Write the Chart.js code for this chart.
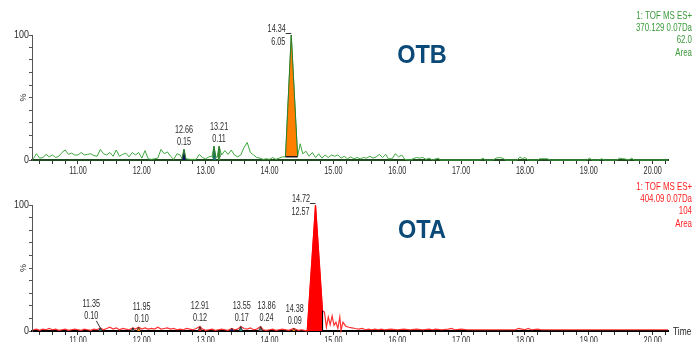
<!DOCTYPE html>
<html><head><meta charset="utf-8">
<script src="https://cdn.jsdelivr.net/npm/chart.js@4"></script>
<style>
html,body{margin:0;padding:0;background:#fff;width:698px;height:342px;overflow:hidden;position:relative;}
#c1{position:absolute;left:0;top:0;}
#c2{position:absolute;left:0;top:180px;}
</style></head><body>
<canvas id="c1" width="698" height="180"></canvas>
<canvas id="c2" width="698" height="170"></canvas>
<script>
// ---------- DATA ----------
const xMin = 10.28, xMax = 20.24;
const yTickLabels = [0, 100];

// OTB trace (370.129)
const otbTime = [10.30,10.35,10.40,10.45,10.50,10.55,10.60,10.65,10.70,10.75,10.80,10.85,10.90,10.95,11.00,11.05,11.10,11.15,11.20,11.25,11.30,11.35,11.40,11.45,11.50,11.55,11.60,11.65,11.70,11.75,11.80,11.85,11.90,11.95,12.00,12.05,12.10,12.15,12.20,12.25,12.30,12.35,12.40,12.45,12.50,12.55,12.60,12.63,12.66,12.69,12.75,12.80,12.85,12.90,12.95,13.00,13.05,13.10,13.13,13.16,13.18,13.21,13.25,13.30,13.35,13.40,13.45,13.50,13.55,13.60,13.65,13.70,13.75,13.80,13.85,13.90,13.95,14.00,14.05,14.10,14.15,14.20,14.25,14.34,14.44,14.48,14.52,14.57,14.62,14.67,14.72,14.77,14.82,14.87,14.92,14.97,15.02,15.07,15.12,15.17,15.22,15.27,15.32,15.37,15.42,15.47,15.52,15.57,15.62,15.67,15.72,15.77,15.82,15.86,15.92,15.97,16.02,16.07,16.12,16.20,16.30,16.35,16.40,16.45,16.50,16.55,16.64,16.68,17.30,17.34,17.38,17.50,17.55,17.60,17.65,17.70,17.88,17.92,17.96,18.00,18.05,18.20,18.23,18.30,18.35,18.40,18.97,19.01,19.05,19.16,19.20,19.24,19.44,19.48,19.52,19.55,19.63,19.67,19.71,20.24];
const otbValue = [1,5,1.5,2,4.5,2.5,4,2,3,6,8,4.5,5.5,4,4,6,4,4.5,5,3.5,3,8.5,5,4,6,3,8,3,4.5,5.5,2.5,6,4,6,1.5,7.5,1,0.5,1,1.5,8.5,5,6.5,3,0.5,5,4,1,8.5,1,0.5,0.5,0.5,4.5,2,1,2.5,3,11,2,2.5,11,4,7.5,4.5,8,4,2.5,4,10,14,6,4,2,1.5,0.5,1,0.5,2,0.5,1.5,2.5,2.5,100,3,13,5,7,3,6,2,5,1.5,4,2,4,3,4,1.5,3,1,2.5,1,2,1,2,1.5,3,1.5,2.5,4.5,2,4.5,1,1,5,2.5,4,0.5,0,2,1.5,2,0.5,1.5,0,1.5,0,0,1.5,0,0,1.5,2,1.5,0,0,2.5,1,2,0,0,1,1,1,0,0,1.5,0,0,1,0,0,1.5,1,1,0,1.5,0,0];

// OTB integrated peaks
const otbMainPeakTime = [14.25, 14.34, 14.44];
const otbMainPeakValue = [2.6, 100, 2.6];
const otbMainBase = 2.6;
const otbSmallPeakTime = [[12.63, 12.66, 12.69], [13.11, 13.13, 13.16], [13.19, 13.21, 13.23]];
const otbSmallPeakValue = [[0.5, 8.5, 0.5], [1.5, 11, 1.5], [2, 11, 2.5]];

// OTB labels
const otbLabelTime = [14.34, 12.66, 13.21];
const otbLabelApex = [100, 8.5, 11];
const otbLabelArea = ['6.05', '0.15', '0.11'];
const otbInfo = ['1: TOF MS ES+', '370.129 0.07Da', '62.0', 'Area'];

// OTA trace (404.09)
const otaTime = [10.30,10.35,10.40,10.45,10.50,10.55,10.60,10.65,10.70,10.75,10.80,10.85,10.90,10.95,11.00,11.05,11.10,11.15,11.20,11.25,11.30,11.35,11.40,11.45,11.50,11.55,11.60,11.65,11.70,11.75,11.80,11.86,11.90,11.95,12.00,12.05,12.10,12.15,12.20,12.25,12.30,12.35,12.40,12.45,12.50,12.55,12.60,12.65,12.70,12.75,12.80,12.85,12.91,12.95,13.00,13.05,13.10,13.15,13.20,13.25,13.30,13.35,13.41,13.45,13.50,13.55,13.60,13.65,13.70,13.75,13.80,13.86,13.90,13.95,14.00,14.05,14.10,14.15,14.20,14.25,14.30,14.38,14.45,14.50,14.55,14.59,14.72,14.83,14.86,14.89,14.92,14.95,14.98,15.01,15.04,15.07,15.10,15.12,15.15,15.19,15.24,15.29,15.34,15.40,15.45,15.50,15.55,15.60,15.65,15.70,15.75,15.80,15.90,16.00,16.10,16.20,16.30,16.40,16.50,16.55,16.60,16.70,16.80,16.85,16.90,17.00,17.10,17.20,17.30,17.40,17.50,17.60,17.70,17.85,17.90,17.95,18.00,18.05,18.10,18.20,18.25,18.40,18.60,18.80,19.00,19.20,19.40,19.60,19.80,20.00,20.24];
const otaValue = [1,1.5,0.5,1.5,1,2,1,1.5,0.5,1,1.5,0.5,1,1.5,1,0.5,1.5,1,0.5,1.5,1,2.5,1,2,3,1.5,2.5,1,2,1.5,1,2.5,1.5,3,1.5,2.5,1.5,2,1.5,3,1.5,2,2.5,1.5,2,1,1.5,1,2,1.5,1,2,3.5,1.5,0.5,1,1.5,0.5,1,1.5,1,0.5,2,1,1.5,3.5,2,1.5,2.5,1,1.5,3.5,1,0.5,1,1.5,0.5,1,1.5,1,0.5,2,0.5,1,0.5,0,100,16,15,3,11,5,12,4.5,7,2,11,0.5,7,4,3,2.5,2,1.5,2,1,1.5,1,1.5,1,1.5,1,1.5,1,1.5,1,1.5,1,1.5,1,1.5,1,1.5,2,1,1.5,1,1,1,1,1,1,1,1,2,1.5,1,2,1,1.5,1,1,1,1,1,1,1,1,1,1,1];

// OTA integrated peaks
const otaMainPeakTime = [14.59, 14.72, 14.83, 14.83];
const otaMainPeakValue = [0, 100, 16, 0];
const otaMarkTime = [11.35, 11.86, 11.95, 12.91, 13.41, 13.55, 13.86, 14.38];
const otaMarkValue = [2.5, 2.5, 3, 3.5, 2, 3.5, 3.5, 2];

// OTA labels
const otaLabelTime = [14.72, 11.35, 11.95, 12.91, 13.55, 13.86, 14.38];
const otaLabelApex = [100, 2.5, 3, 3.5, 3.5, 3.5, 2];
const otaLabelArea = ['12.57', '0.10', '0.10', '0.12', '0.17', '0.24', '0.09'];
const otaInfo = ['1: TOF MS ES+', '404.09 0.07Da', '104', 'Area'];

// ---------- STYLE ----------
const SMALL_FONT = '10.5px "Liberation Sans", Arial, sans-serif';
const SX = 0.69; // horizontal condensing of small text
const markColors = ['#2f5f5f', '#555555', '#ff7f00', '#e02020', '#1a1a80', '#2f8080', '#707070', '#ff7f00'];
const MARK_HALF = 0.03;

function pts(ts, vs) { return ts.map((t, i) => ({x: t, y: vs[i]})); }

function scalesCfg(axisColor, xHeight) {
  return {
    x: {
      type: 'linear', min: xMin, max: xMax,
      afterFit: s => { s.height = xHeight; },
      ticks: {display: false, stepSize: 0.2, includeBounds: false, autoSkip: false, maxRotation: 0, minRotation: 0},
      grid: {drawOnChartArea: false, drawTicks: true, tickLength: 4, color: '#333', tickWidth: 1},
      border: {display: true, color: axisColor, width: 2}
    },
    y: {
      type: 'linear', min: 0, max: 100,
      afterFit: s => { s.width = 32; },
      ticks: {display: false, stepSize: 10, autoSkip: false},
      grid: {drawOnChartArea: false, drawTicks: true, tickLength: 3, color: '#555'},
      border: {display: true, color: '#555', width: 1}
    }
  };
}

function txt(ctx, s, x, y, align, sx) {
  ctx.save();
  ctx.translate(x, y);
  ctx.scale(sx, 1);
  ctx.textAlign = align;
  ctx.fillText(s, 0, 0);
  ctx.restore();
}

const overlay = {
  id: 'overlay',
  afterDraw(chart, args, o) {
    const ctx = chart.ctx, xs = chart.scales.x, ys = chart.scales.y, ca = chart.chartArea;
    ctx.save();
    ctx.textBaseline = 'middle';
    ctx.font = SMALL_FONT;
    // axis tick labels
    ctx.fillStyle = '#2a2a2a';
    xs.ticks.forEach(tk => {
      const v = tk.value;
      if (Math.abs(v - Math.round(v)) < 1e-6) txt(ctx, v.toFixed(2), xs.getPixelForValue(v), ca.bottom + o.xLabelOff, 'center', SX);
    });
    yTickLabels.forEach(v => txt(ctx, String(v), ca.left - 3, ys.getPixelForValue(v), 'right', 0.85));
    // % label
    ctx.save();
    ctx.translate(ca.left - 8, (ca.top + ca.bottom) / 2);
    ctx.rotate(-Math.PI / 2);
    ctx.font = '9px "Liberation Sans", Arial, sans-serif';
    ctx.textAlign = 'center';
    ctx.fillText('%', 0, 0);
    ctx.restore();
    // info block
    ctx.fillStyle = o.infoColor;
    o.info.forEach((s, i) => txt(ctx, s, 692, o.infoTop + i * 12.3, 'right', 0.75));
    // big title
    ctx.fillStyle = '#0b4a78'; ctx.font = 'bold 25px "Liberation Sans", Arial, sans-serif';
    txt(ctx, o.title, 422, o.titleY, 'center', 0.94);
    // peak labels
    ctx.fillStyle = '#2a2a2a'; ctx.font = SMALL_FONT; ctx.strokeStyle = '#333'; ctx.lineWidth = 1;
    o.labelTime.forEach((t, i) => {
      const px = xs.getPixelForValue(t), py = ys.getPixelForValue(o.labelApex[i]);
      if (i === 0) {
        txt(ctx, t.toFixed(2), px - 5.5, py - 5.5, 'right', SX);
        txt(ctx, o.labelArea[i], px - 6, py + 7.5, 'right', SX);
        ctx.beginPath(); ctx.moveTo(px - 5.5, py - 1.5); ctx.lineTo(px, py - 1.5); ctx.stroke();
      } else {
        const dx = (o.labelDx && o.labelDx[i]) || 0;
        const dy = (o.labelDy && o.labelDy[i]) || 0;
        txt(ctx, t.toFixed(2), px + dx, py - o.rtOff + dy, 'center', SX);
        txt(ctx, o.labelArea[i], px + dx, py - o.areaOff + dy, 'center', SX);
        if (o.leader && o.leader[i]) {
          ctx.beginPath(); ctx.moveTo(px + dx + 5, py - o.areaOff + dy + 5); ctx.lineTo(px, py); ctx.stroke();
        }
      }
    });
    if (o.timeLabel) {
      ctx.fillStyle = '#222';
      txt(ctx, 'Time', ca.right + 5, ca.bottom + 1, 'left', 0.8);
    }
    ctx.restore();
  }
};

// ---------- TOP CHART (OTB) ----------
const topDatasets = [];
topDatasets.push({data: [{x: otbMainPeakTime[0], y: otbMainBase}, {x: otbMainPeakTime[2], y: otbMainBase}], borderColor: '#1a1a1a', borderWidth: 1.5, pointRadius: 0, fill: false});
topDatasets.push({data: pts(otbMainPeakTime, otbMainPeakValue), borderColor: '#2d7d2d', borderWidth: 1, backgroundColor: '#ff8000', pointRadius: 0, fill: {value: otbMainBase}});
const smallCols = ['#101060', '#1a7070', '#3a8a3a'];
otbSmallPeakTime.forEach((ts, k) => topDatasets.push({data: pts(ts, otbSmallPeakValue[k]), borderColor: '#2d7d2d', borderWidth: 1, backgroundColor: smallCols[k], pointRadius: 0, fill: 'origin'}));
topDatasets.push({data: pts(otbTime, otbValue), borderColor: '#3fa83f', borderWidth: 1, pointRadius: 0, fill: false});

new Chart(document.getElementById('c1'), {
  type: 'line',
  data: {datasets: topDatasets.map(d => Object.assign({tension: 0, clip: false}, d))},
  options: {
    responsive: false, animation: false, devicePixelRatio: 1,
    layout: {padding: {top: 35, right: 30, left: 0, bottom: 0}},
    plugins: {legend: {display: false}, tooltip: {enabled: false},
      overlay: {info: otbInfo, infoColor: '#3a9a3a', infoTop: 16, title: 'OTB', titleY: 56, xLabelOff: 11,
        labelTime: otbLabelTime, labelApex: otbLabelApex, labelArea: otbLabelArea, rtOff: 19.5, areaOff: 7, timeLabel: false}},
    scales: scalesCfg('#1f4a1f', 20)
  },
  plugins: [overlay]
});

// ---------- BOTTOM CHART (OTA) ----------
const botDatasets = [];
otaMarkTime.forEach((t, k) => botDatasets.push({data: [{x: t - MARK_HALF, y: 0}, {x: t, y: otaMarkValue[k]}, {x: t + MARK_HALF, y: 0}], borderColor: '#222', borderWidth: 0.8, backgroundColor: markColors[k], pointRadius: 0, fill: 'origin'}));
botDatasets.push({data: pts(otaMainPeakTime, otaMainPeakValue), borderColor: '#ff0000', borderWidth: 1, backgroundColor: '#ff0000', pointRadius: 0, fill: 'origin',
  segment: {borderColor: c => c.p1DataIndex === 3 ? '#000' : undefined}});
botDatasets.push({data: pts(otaTime, otaValue), borderColor: '#ff3030', borderWidth: 1.2, pointRadius: 0, fill: false});

new Chart(document.getElementById('c2'), {
  type: 'line',
  data: {datasets: botDatasets.map(d => Object.assign({tension: 0, clip: false}, d))},
  options: {
    responsive: false, animation: false, devicePixelRatio: 1,
    layout: {padding: {top: 25, right: 30, left: 0, bottom: 0}},
    plugins: {legend: {display: false}, tooltip: {enabled: false},
      overlay: {info: otaInfo, infoColor: '#ff2020', infoTop: 7, title: 'OTA', titleY: 51, xLabelOff: 10,
        labelTime: otaLabelTime, labelApex: otaLabelApex, labelArea: otaLabelArea,
        labelDx: [0, -9, 3, 0, 1, 6, 1], labelDy: [0, -4, 0, 0, 0, 0, 1], leader: [false, true, false, false, false, false, false],
        rtOff: 20, areaOff: 8, timeLabel: true}},
    scales: scalesCfg('#000', 19)
  },
  plugins: [overlay]
});
</script>
</body></html>
